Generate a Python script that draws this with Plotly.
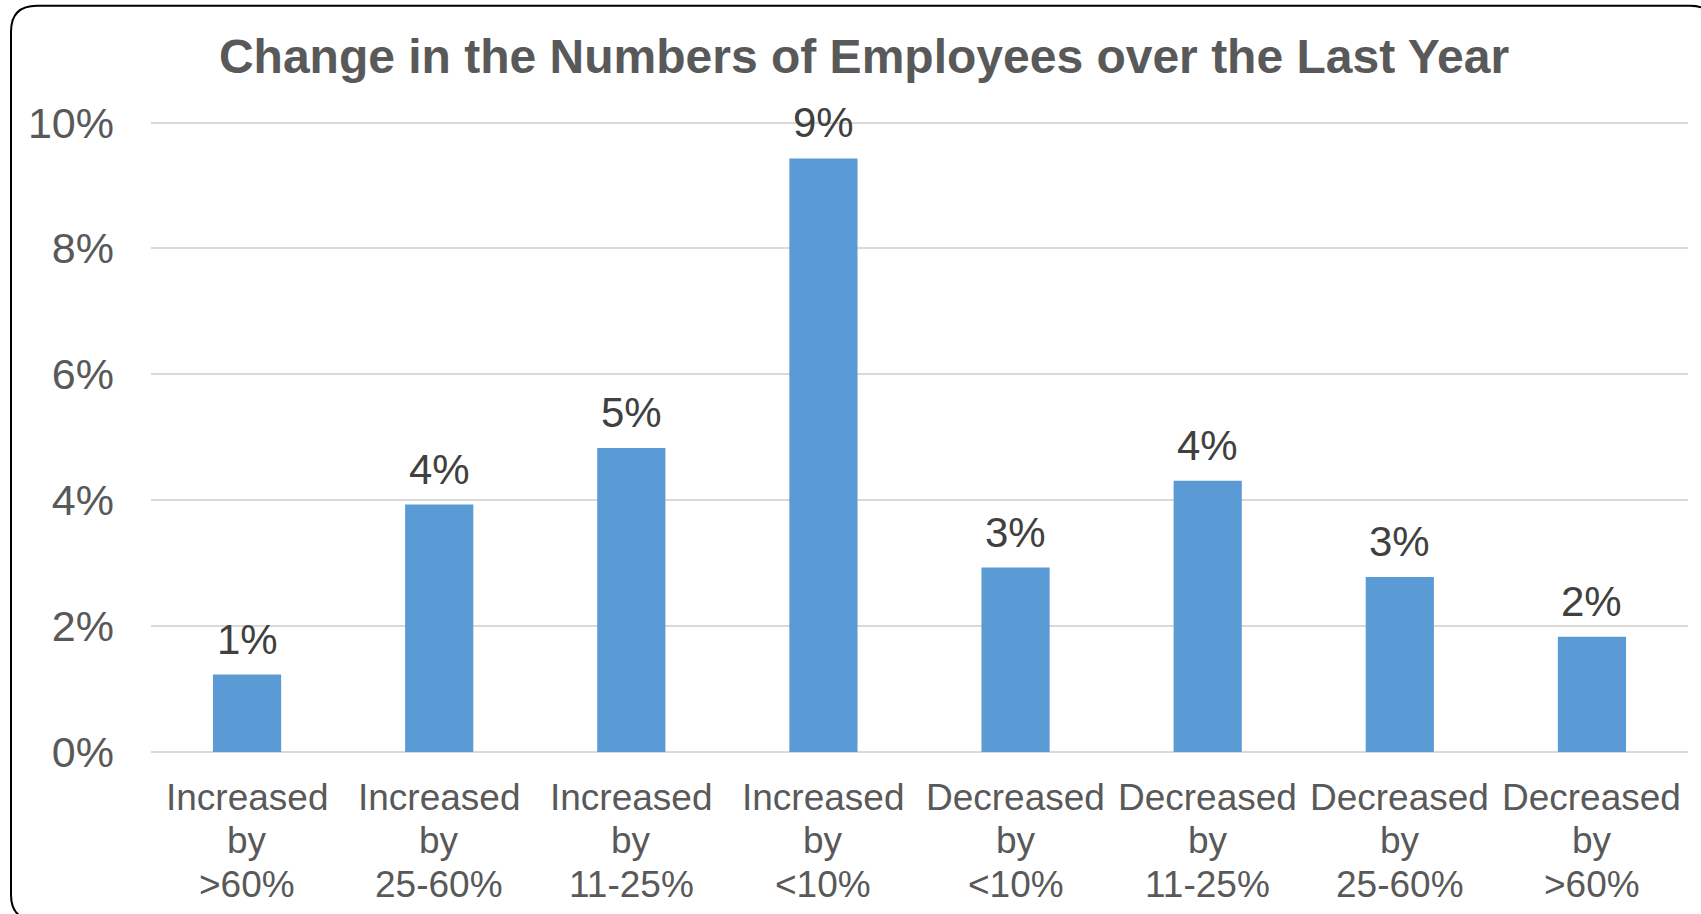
import plotly.graph_objects as go

categories = ["Increased<br>by<br>>60%", "Increased<br>by<br>25-60%", "Increased<br>by<br>11-25%",
              "Increased<br>by<br><10%", "Decreased<br>by<br><10%", "Decreased<br>by<br>11-25%",
              "Decreased<br>by<br>25-60%", "Decreased<br>by<br>>60%"]
values = [0.0123, 0.0393, 0.0483, 0.0943, 0.0293, 0.0431, 0.0278, 0.0183]
y_ticks = [0, 0.02, 0.04, 0.06, 0.08, 0.10]

W, H = 1701, 914
L, R, T, B = 151, 13, 120.2, 162.3
FONT = "Liberation Sans, Arial"

fig = go.Figure()
fig.add_trace(go.Bar(x=categories, y=values, marker=dict(color="#5b9bd5", line=dict(width=0)),
                     width=0.355, hoverinfo="skip"))

for c, v in zip(categories, values):
    fig.add_annotation(x=c, y=v, text=f"{v:.0%}", showarrow=False, yanchor="bottom",
                       yshift=10, font=dict(family=FONT, size=42, color="#404040"))

# category labels, one annotation per line for tighter line spacing
for c in categories:
    for i, line in enumerate(c.split("<br>")):
        fig.add_annotation(x=c, y=0, text=line, showarrow=False, yanchor="middle", xanchor="center",
                           yshift=-(45 + i * 43.5), font=dict(family=FONT, size=37, color="#595959"))

# rounded border in pixel -> paper coords
pw, ph = W - L - R, H - T - B
def px(x): return (x - L) / pw
def py(y): return 1 - (y - T) / ph
x0, x1, y0, y1, r = 11, 1716, 6, 920, 26
path = (f"M {px(x0+r)},{py(y0)} L {px(x1-r)},{py(y0)} Q {px(x1)},{py(y0)} {px(x1)},{py(y0+r)} "
        f"L {px(x1)},{py(y1-r)} Q {px(x1)},{py(y1)} {px(x1-r)},{py(y1)} "
        f"L {px(x0+r)},{py(y1)} Q {px(x0)},{py(y1)} {px(x0)},{py(y1-r)} "
        f"L {px(x0)},{py(y0+r)} Q {px(x0)},{py(y0)} {px(x0+r)},{py(y0)} Z")
fig.add_shape(type="path", path=path, xref="paper", yref="paper", line=dict(color="black", width=2))

fig.update_layout(
    width=W, height=H, margin=dict(l=L, r=R, t=T, b=B),
    paper_bgcolor="white", plot_bgcolor="white", showlegend=False,
    title=dict(text="<b>Change in the Numbers of Employees over the Last Year</b>",
               x=864 / W, xanchor="center", y=1 - 56 / H, yanchor="middle",
               font=dict(family=FONT, size=48, color="#595959")),
    bargap=0.645,
)
fig.update_xaxes(showline=False, ticks="", showticklabels=False)
fig.update_yaxes(range=[0, 0.1004], tickvals=y_ticks, tickformat=".0%", showgrid=True, gridcolor="#d9d9d9",
                 gridwidth=2, zeroline=True, zerolinecolor="#d9d9d9", zerolinewidth=2, showline=False,
                 tickfont=dict(family=FONT, size=43, color="#595959"), ticklabelstandoff=36)

fig.write_html("out.html")
